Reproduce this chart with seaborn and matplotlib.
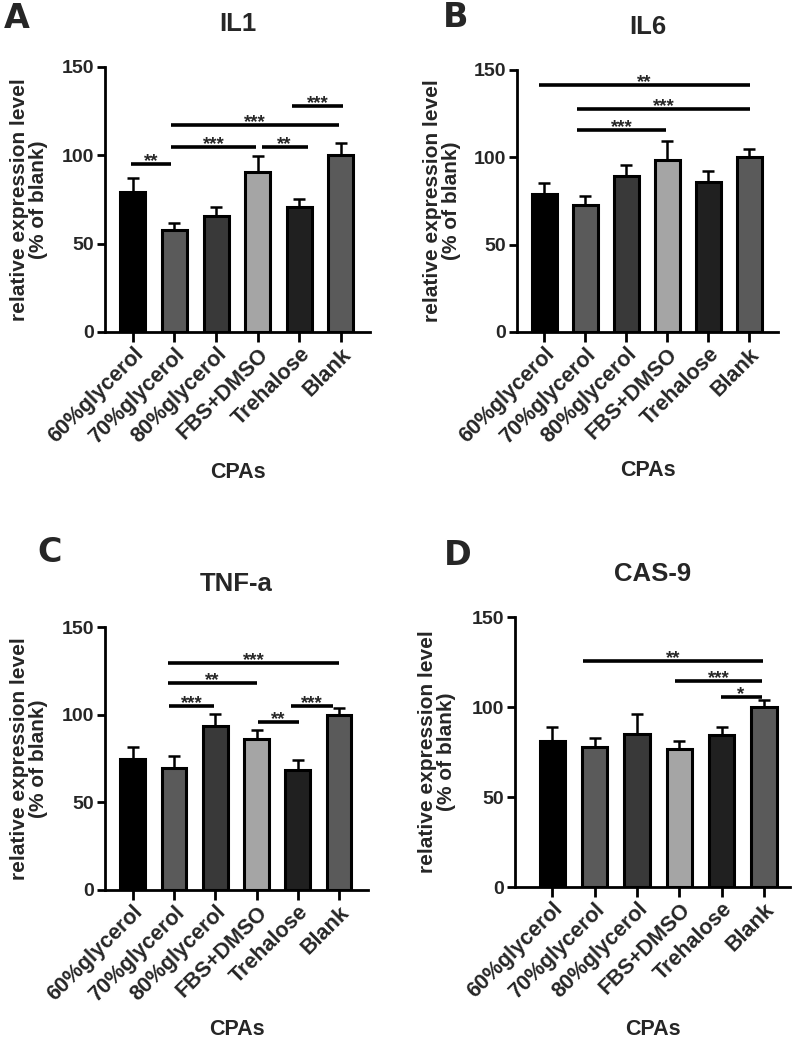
import matplotlib
matplotlib.use("Agg")
import matplotlib.pyplot as plt
import seaborn as sns
import pandas as pd

sns.set_theme(style="ticks")
plt.rcParams['font.family'] = ['Liberation Sans', 'DejaVu Sans']
plt.rcParams['font.weight'] = 'bold'

# categories shared by all four panels
categories = ["60%glycerol", "70%glycerol", "80%glycerol", "FBS+DMSO", "Trehalose", "Blank"]
bar_colors = ["#000000", "#5a5a5a", "#393939", "#a5a5a5", "#202020", "#5a5a5a"]

# mean and upper error (% of blank)
il1_mean = [79.5, 57.7, 65.8, 90.4, 70.9, 100.0]
il1_err = [7.4, 4.2, 4.8, 9.4, 4.5, 7.1]
il6_mean = [79.1, 72.8, 89.5, 98.5, 86.1, 100.0]
il6_err = [6.1, 5.3, 6.2, 10.9, 6.1, 4.8]
tnf_mean = [74.6, 69.5, 93.8, 86.4, 68.4, 100.0]
tnf_err = [6.9, 7.0, 6.5, 4.6, 6.0, 3.6]
cas9_mean = [81.3, 78.0, 85.0, 76.5, 84.5, 100.0]
cas9_err = [7.8, 4.6, 11.0, 4.6, 4.6, 3.7]

# significance lines: (from, to) in category units, height, stars
il1_sig = [(-0.05, 0.92, 95.0, "**"), (0.92, 2.97, 104.7, "***"), (3.1, 4.2, 104.7, "**"),
           (0.92, 4.95, 117.1, "***"), (3.82, 5.05, 128.0, "***")]
il6_sig = [(-0.14, 5.02, 141.4, "**"), (0.8, 5.02, 127.7, "***"), (0.8, 2.98, 115.7, "***")]
tnf_sig = [(0.85, 5.0, 129.4, "***"), (0.85, 3.01, 117.8, "**"), (0.89, 1.97, 104.9, "***"),
           (3.03, 4.02, 95.8, "**"), (3.83, 4.85, 104.9, "***")]
cas9_sig = [(0.72, 4.97, 125.3, "**"), (2.89, 4.96, 114.7, "***"), (3.97, 4.94, 105.8, "*")]

W, H = 797, 1039
fig = plt.figure(figsize=(W / 100, H / 100), dpi=100)


def add_axes(left, top, right, bottom):
    return fig.add_axes([left / W, 1 - bottom / H, (right - left) / W, (bottom - top) / H])


panels = [
    ("A", "IL1", il1_mean, il1_err, il1_sig, (105, 67, 370, 332), (-0.67, 5.70), (4, 28)),
    ("B", "IL6", il6_mean, il6_err, il6_sig, (517, 70, 778, 332), (-0.665, 5.70), (443, 27)),
    ("C", "TNF-a", tnf_mean, tnf_err, tnf_sig, (105, 627, 368, 890), (-0.67, 5.70), (37, 562)),
    ("D", "CAS-9", cas9_mean, cas9_err, cas9_sig, (515, 617, 790, 887), (-0.88, 5.61), (444, 565)),
]

for letter, title, mean, err, sig, box, xlim, lpos in panels:
    ax = add_axes(*box)
    df = pd.DataFrame({"cpa": categories, "val": mean})
    sns.barplot(data=df, x="cpa", y="val", hue="cpa", palette=bar_colors, legend=False,
                errorbar=None, width=0.6, edgecolor="black", linewidth=2.2, ax=ax, zorder=2)
    ax.errorbar(range(len(categories)), mean, yerr=[[0] * len(err), err], fmt="none",
                ecolor="black", elinewidth=1.8, capsize=4.5, capthick=1.8, zorder=3)

    for x0, x1, y, stars in sig:
        ax.plot([x0, x1], [y, y], color="black", lw=2.6, solid_capstyle="butt", zorder=4)
        ax.annotate(stars, xy=((x0 + x1) / 2, y), xytext=(0, -1.5), textcoords="offset points",
                    ha="center", va="baseline", fontsize=13.5, fontweight="bold", zorder=5)

    ax.set_xlim(*xlim)
    ax.set_ylim(0, 150)
    ax.set_yticks([0, 50, 100, 150])
    sns.despine(ax=ax)
    for s in ["left", "bottom"]:
        ax.spines[s].set_linewidth(2)
        ax.spines[s].set_color("black")
    ax.tick_params(axis="y", length=6, width=2, color="black", labelsize=14, pad=2)
    ax.tick_params(axis="x", length=7.5, width=2, color="black", labelsize=15.5, pad=1)
    plt.setp(ax.get_xticklabels(), rotation=45, ha="right", va="top", rotation_mode="anchor",
             fontweight="bold")
    plt.setp(ax.get_yticklabels(), fontweight="bold")

    ax.set_xlabel("CPAs", fontsize=15.5, fontweight="bold")
    ax.xaxis.set_label_coords(0.5, -0.49)
    ax.set_ylabel("relative expression level\n(% of blank)", fontsize=15, fontweight="bold",
                  linespacing=1.0)
    ax.yaxis.set_label_coords(-0.215, 0.5)
    ax.set_title(title, fontsize=18.5, fontweight="bold", pad=26)
    ax.grid(False)

    fig.text(lpos[0] / W, 1 - lpos[1] / H, letter, fontsize=24, fontweight="bold",
             family=["DejaVu Sans"], ha="left", va="baseline")

fig.savefig("out.png", dpi=100, facecolor="white")
